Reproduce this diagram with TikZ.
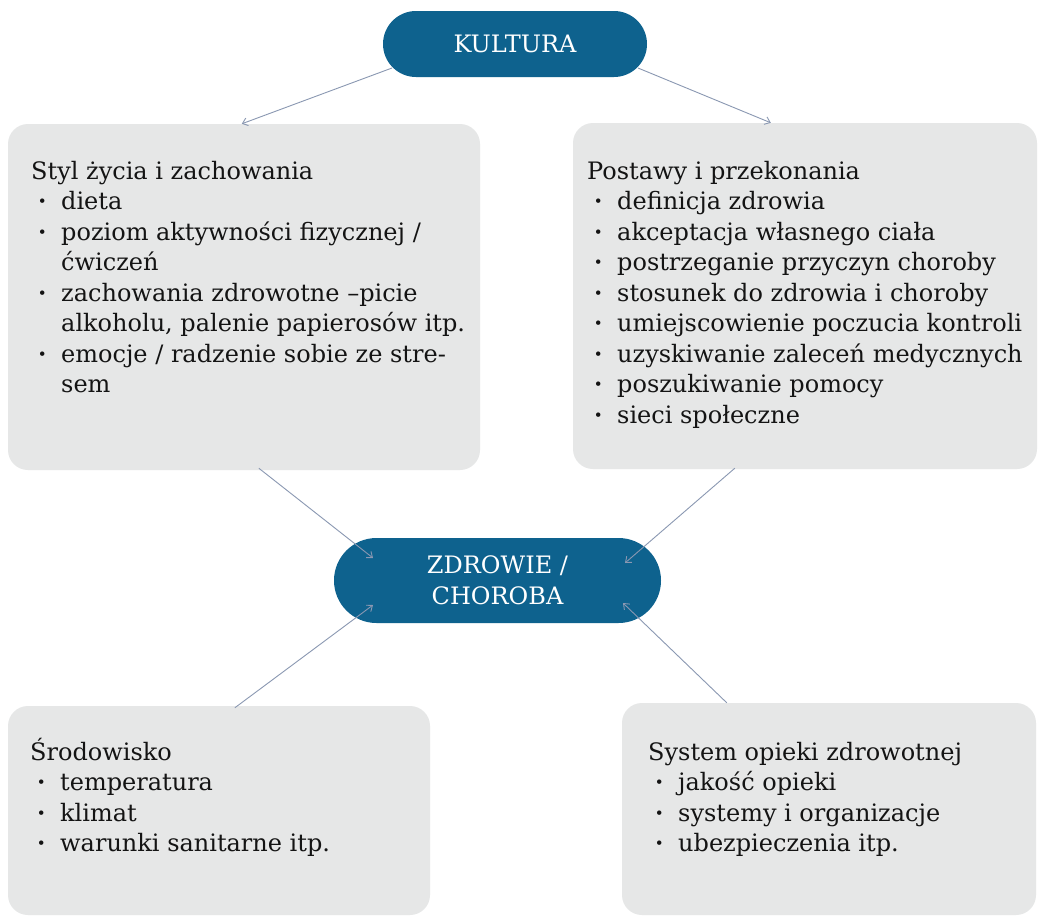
\documentclass[tikz,border=0pt]{standalone}
\usepackage{fontspec}
\setmainfont{DejaVu Serif}
\usetikzlibrary{arrows.meta,calc}
\definecolor{pillblue}{RGB}{14,98,142}
\definecolor{boxgray}{RGB}{230,231,231}
\definecolor{arrgray}{RGB}{138,152,178}
\definecolor{ink}{RGB}{20,20,20}
\newcommand\bul{\makebox[30pt][l]{\hspace*{7pt}\textbf{·}}}
\newcommand\cnt{\hspace*{30pt}}
\begin{document}
\begin{tikzpicture}[x=1pt,y=-1pt,
  pill/.style={fill=pillblue, text=white, inner sep=0pt, font=\fontsize{24}{31}\selectfont, align=center},
  card/.style={fill=boxgray, rounded corners=20pt, inner sep=0pt},
  txt/.style={anchor=north west, inner sep=0pt, align=left, text=ink, font=\fontsize{24}{30.5}\selectfont},
  arr/.style={draw=arrgray, line width=0.9pt, -{Straight Barb[length=5pt,width=8pt]}}]
\useasboundingbox (0,0) rectangle (1038,916);
\fill[white] (0,0) rectangle (1038,916);

% cards
\node[card, minimum width=472pt, minimum height=346pt] (styl) at (244,297) {};
\node[card, minimum width=464pt, minimum height=346pt] (postawy) at (805,296) {};
\node[card, minimum width=422pt, minimum height=209pt] (srod) at (219,810.5) {};
\node[card, minimum width=414pt, minimum height=212pt] (system) at (829,809) {};

% pills
\node[pill, minimum width=264pt, minimum height=66pt, rounded corners=33pt] (kultura) at (515,44) {\raisebox{-4pt}{KULTURA}};
\node[pill, minimum width=327pt, minimum height=85pt, rounded corners=42.5pt] (zdrowie) at (497.5,580.5) {ZDROWIE /\\CHOROBA};

% texts
\node[txt] (stylt) at (31,153) {\rule{0pt}{26pt}Styl życia i zachowania\\
\bul dieta\\
\bul poziom aktywności fizycznej /\\
\cnt ćwiczeń\\
\bul zachowania zdrowotne –picie\\
\cnt alkoholu, palenie papierosów itp.\\
\bul emocje / radzenie sobie ze stre-\\
\cnt sem};

\node[txt] (postawyt) at (587,153) {\rule{0pt}{26pt}Postawy i przekonania\\
\bul definicja zdrowia\\
\bul akceptacja własnego ciała\\
\bul postrzeganie przyczyn choroby\\
\bul stosunek do zdrowia i choroby\\
\bul umiejscowienie poczucia kontroli\\
\bul uzyskiwanie zaleceń medycznych\\
\bul poszukiwanie pomocy\\
\bul sieci społeczne};

\node[txt] (srodt) at (30,734) {\rule{0pt}{26pt}Środowisko\\
\bul temperatura\\
\bul klimat\\
\bul warunki sanitarne itp.};

\node[txt] (systemt) at (648,734) {\rule{0pt}{26pt}System opieki zdrowotnej\\
\bul jakość opieki\\
\bul systemy i organizacje\\
\bul ubezpieczenia itp.};

% connectors
\draw[arr] ([shift={(-123,24)}]kultura.center) -- ([shift={(234,0)}]styl.north west);
\draw[arr] ([shift={(123,24)}]kultura.center) -- ([shift={(198,0)}]postawy.north west);
\draw[arr] ([shift={(251,-2)}]styl.south west) -- ([shift={(-124.5,-22.5)}]zdrowie.center);
\draw[arr] ([shift={(162,-1)}]postawy.south west) -- ([shift={(127.5,-17.5)}]zdrowie.center);
\draw[arr] ([shift={(227,2)}]srod.north west) -- ([shift={(-124.5,24.5)}]zdrowie.center);
\draw[arr] ([shift={(105,0)}]system.north west) -- ([shift={(125.5,22.5)}]zdrowie.center);
\end{tikzpicture}
\end{document}
